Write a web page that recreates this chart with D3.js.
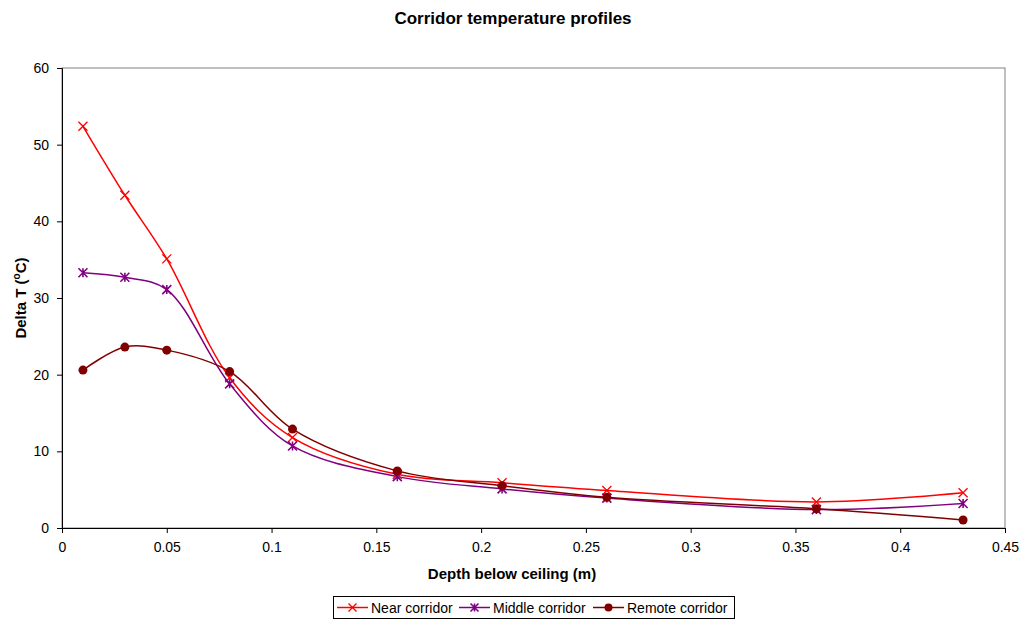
<!DOCTYPE html>
<html><head><meta charset="utf-8">
<script src="https://cdn.jsdelivr.net/npm/d3@7"></script>
<style>body{margin:0;background:#fff;font-family:"Liberation Sans",Arial,sans-serif;}</style>
</head><body><svg id="c" width="1025" height="621"></svg>
<script>
const depths = [0.01, 0.03, 0.05, 0.08, 0.11, 0.16, 0.21, 0.26, 0.36, 0.43];
const nearCorridor   = [52.4, 43.4, 35.1, 19.6, 11.8, 7.0, 5.9, 4.9, 3.4, 4.6];
const middleCorridor = [33.3, 32.7, 31.1, 18.8, 10.7, 6.7, 5.1, 3.9, 2.4, 3.2];
const remoteCorridor = [20.6, 23.6, 23.2, 20.4, 12.9, 7.45, 5.5, 4.0, 2.5, 1.05];
const xTicks = [0, 0.05, 0.1, 0.15, 0.2, 0.25, 0.3, 0.35, 0.4, 0.45];
const yTicks = [0, 10, 20, 30, 40, 50, 60];
const seriesNames = ["Near corridor", "Middle corridor", "Remote corridor"];

const svg = d3.select("#c");
const L = 62, R = 1005, T = 68, B = 528;
const x = d3.scaleLinear().domain([0, 0.45]).range([L, R]);
const y = d3.scaleLinear().domain([0, 60]).range([B, T]);

// frame
svg.append("rect").attr("x", L).attr("y", T).attr("width", R - L).attr("height", B - T)
  .attr("fill", "none").attr("stroke", "#808080").attr("stroke-width", 1);

const fmt = d => d === 0 ? "0" : String(d);
const xa = svg.append("g").attr("transform", `translate(0,${B})`)
  .call(d3.axisBottom(x).tickValues(xTicks).tickFormat(fmt).tickSizeOuter(0).tickSize(5).tickPadding(9));
const ya = svg.append("g").attr("transform", `translate(${L},0)`)
  .call(d3.axisLeft(y).tickValues(yTicks).tickFormat(fmt).tickSizeOuter(0).tickSize(5).tickPadding(8));
[xa, ya].forEach(a => {
  a.selectAll("text").attr("font-family", "Liberation Sans, Arial, sans-serif").attr("font-size", 14).attr("fill", "#000");
  a.selectAll("line,path").attr("stroke", "#000");
});

svg.append("text").attr("x", 513).attr("y", 24).attr("text-anchor", "middle")
  .attr("font-size", 17).attr("font-weight", "bold").text("Corridor temperature profiles");
svg.append("text").attr("x", 512).attr("y", 579).attr("text-anchor", "middle")
  .attr("font-size", 15).attr("font-weight", "bold").text("Depth below ceiling (m)");
const yl = svg.append("text").attr("transform", `translate(26,${(T + B) / 2}) rotate(-90)`)
  .attr("text-anchor", "middle").attr("font-size", 15).attr("font-weight", "bold");
yl.append("tspan").text("Delta T (");
yl.append("tspan").attr("font-size", 10).attr("dy", -6).text("o");
yl.append("tspan").attr("dy", 6).text("C)");

const colors = ["#ff0000", "#800080", "#800000"];
const data = [nearCorridor, middleCorridor, remoteCorridor];
const line = d3.line().x(d => x(d[0])).y(d => y(d[1])).curve(d3.curveCatmullRom.alpha(0.5));

function marker(g, type, cx, cy, c, s) {
  if (type === 0) {
    g.append("path").attr("d", `M${cx-s},${cy-s}L${cx+s},${cy+s}M${cx-s},${cy+s}L${cx+s},${cy-s}`)
      .attr("stroke", c).attr("stroke-width", 1.3).attr("fill", "none");
  } else if (type === 1) {
    g.append("path").attr("d", `M${cx-s},${cy-s}L${cx+s},${cy+s}M${cx-s},${cy+s}L${cx+s},${cy-s}M${cx},${cy-s}L${cx},${cy+s}`)
      .attr("stroke", c).attr("stroke-width", 1.6).attr("fill", "none");
  } else {
    g.append("circle").attr("cx", cx).attr("cy", cy).attr("r", s).attr("fill", c);
  }
}

data.forEach((vals, i) => {
  const pts = depths.map((d, j) => [d, vals[j]]);
  svg.append("path").attr("d", line(pts)).attr("fill", "none").attr("stroke", colors[i]).attr("stroke-width", 1.5);
});
data.forEach((vals, i) => {
  const g = svg.append("g");
  depths.forEach((d, j) => marker(g, i, x(d), y(vals[j]), colors[i], 4.5));
});

// legend
const lg = svg.append("g");
lg.append("rect").attr("x", 333.5).attr("y", 596.5).attr("width", 401).attr("height", 22)
  .attr("fill", "#fff").attr("stroke", "#000");
const lx = [337, 459, 593];
seriesNames.forEach((n, i) => {
  lg.append("line").attr("x1", lx[i]).attr("x2", lx[i] + 31).attr("y1", 607.5).attr("y2", 607.5)
    .attr("stroke", colors[i]).attr("stroke-width", 1.5);
  marker(lg, i, lx[i] + 15.5, 607.5, colors[i], 4);
  lg.append("text").attr("x", lx[i] + 34).attr("y", 612.5).attr("font-size", 14).text(n);
});
</script></body></html>
